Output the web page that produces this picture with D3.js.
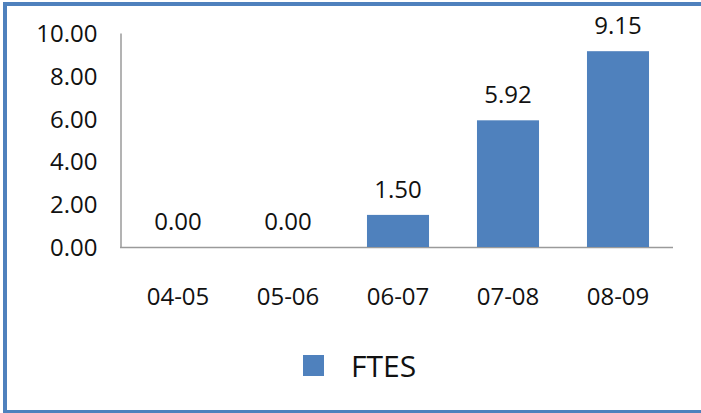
<!DOCTYPE html>
<html><head><meta charset="utf-8">
<script src="https://cdn.jsdelivr.net/npm/d3@7"></script>
<style>html,body{margin:0;padding:0;background:#fff;}svg{display:block;}</style>
</head><body>
<script>
const categories = ["04-05","05-06","06-07","07-08","08-09"];
const values = [0.00, 0.00, 1.50, 5.92, 9.15];
const yTicks = [0, 2, 4, 6, 8, 10];
const seriesName = "FTES";

const W = 701, H = 413;
const svg = d3.select("body").append("svg").attr("width", W).attr("height", H);
svg.append("rect").attr("width", W).attr("height", H).attr("fill", "#fff");

// outer border (left, top, bottom)
const bc = "#4F81BD";
svg.append("rect").attr("x", 3).attr("y", 2).attr("width", 4).attr("height", 411).attr("fill", bc);
svg.append("rect").attr("x", 3).attr("y", 2).attr("width", 698).attr("height", 4).attr("fill", bc);
svg.append("rect").attr("x", 3).attr("y", 410).attr("width", 698).attr("height", 3).attr("fill", bc);

const font = "'Open Sans', 'Noto Sans', sans-serif";
const x = d3.scaleBand().domain(categories).range([123, 673]).paddingInner(0.436).paddingOuter(0.218);
const y = d3.scaleLinear().domain([0, 10]).range([247, 33]);

// y axis
const ya = svg.append("g").attr("transform", "translate(120.5,0)")
  .call(d3.axisLeft(y).tickValues(yTicks).tickSize(0).tickPadding(23).tickFormat(d3.format(".2f")));
ya.select(".domain").attr("stroke", "#9a9a9a").attr("stroke-width", 1.5);
ya.selectAll("text").attr("font-family", font).attr("font-size", 24).attr("fill", "#111").attr("dy", "0.35em");

// x axis
const xa = svg.append("g").attr("transform", "translate(0,247.5)")
  .call(d3.axisBottom(x).tickSize(0).tickPadding(0));
xa.select(".domain").attr("d", "M120,0H673").attr("stroke", "#9a9a9a").attr("stroke-width", 1.5);
xa.selectAll("text").attr("font-family", font).attr("font-size", 24).attr("fill", "#111")
  .attr("y", 57).attr("dy", 0);

// bars
svg.selectAll("rect.bar").data(values).enter().append("rect").attr("class", "bar")
  .attr("x", (d, i) => x(categories[i]))
  .attr("width", x.bandwidth())
  .attr("y", d => y(d))
  .attr("height", d => y(0) - y(d))
  .attr("fill", "#4F81BD");

// labels
svg.selectAll("text.lbl").data(values).enter().append("text").attr("class", "lbl")
  .attr("x", (d, i) => x(categories[i]) + x.bandwidth() / 2)
  .attr("y", d => y(d) - 17)
  .attr("text-anchor", "middle")
  .attr("font-family", font).attr("font-size", 24).attr("fill", "#111")
  .text(d => d3.format(".2f")(d));

// legend
svg.append("rect").attr("x", 303).attr("y", 355).attr("width", 21).attr("height", 21).attr("fill", "#4F81BD");
svg.append("text").attr("x", 351).attr("y", 377).attr("font-family", font).attr("font-size", 30)
  .attr("fill", "#111").text(seriesName);
</script>
</body></html>
